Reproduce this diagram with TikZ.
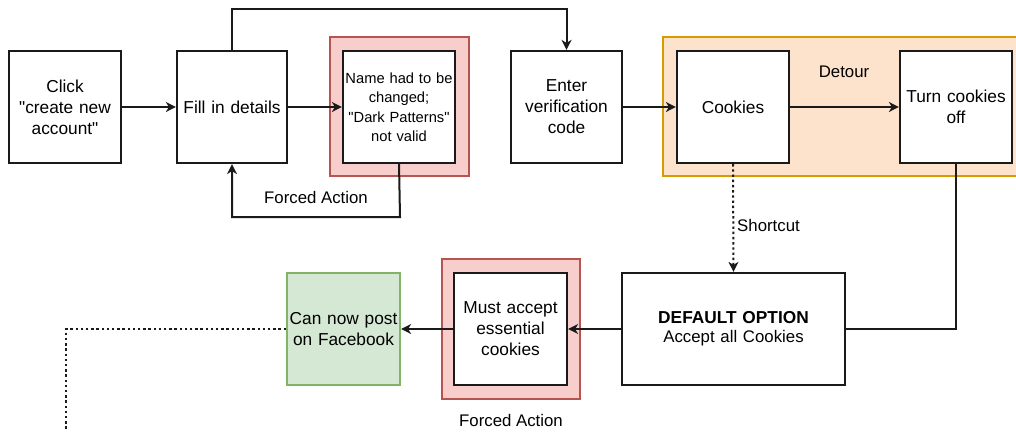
\documentclass[tikz,border=0pt]{standalone}
\usepackage{fontspec}
\setmainfont{Liberation Sans}[Ligatures=TeXOff]
\usetikzlibrary{arrows.meta}
\definecolor{redfill}{HTML}{F8CECC}
\definecolor{redline}{HTML}{B85450}
\definecolor{orfill}{HTML}{FDE3CC}
\definecolor{orline}{HTML}{D79B00}
\definecolor{grfill}{HTML}{D5E8D4}
\definecolor{grline}{HTML}{82B366}
\definecolor{ink}{HTML}{1A1A1A}
\begin{document}
\begin{tikzpicture}[x=1pt,y=-1pt,
  box/.style={draw=ink,line width=2.2pt,fill=white,minimum width=112pt,minimum height=112pt,inner sep=0pt,align=center,font=\fontsize{17.3}{21}\selectfont,text width=110pt},
  smallbox/.style={box,font=\fontsize{14.7}{19.5}\selectfont},
  conn/.style={draw=ink,line width=2pt},
  tip/.style={-{Stealth[length=10pt,width=10pt,inset=3pt]}},
  arr/.style={conn,tip},
  dotline/.style={conn,dash pattern=on 2.4pt off 2.8pt},
  lbl/.style={font=\fontsize{16.8}{19}\selectfont,inner sep=1pt}]
\useasboundingbox (0,0) rectangle (1016,431);
\clip (0,0) rectangle (1016,431);
\fill[white] (0,0) rectangle (1016,431);
% group backgrounds
\draw[draw=redline,fill=redfill,line width=1.6pt] (330,37) rectangle (469,176);
\draw[draw=orline,fill=orfill,line width=1.6pt] (663,37) rectangle (1030,176);
\draw[draw=redline,fill=redfill,line width=1.6pt] (442,259) rectangle (580,399);
\node[lbl,anchor=center] (detour) at (844,72) {Detour};
% nodes
\node[box] (click) at (65,107) {Click\\"create new\\account"};
\node[box,minimum width=110pt] (fill) at (232,107) {Fill in details};
\node[smallbox] (name) at (399,107) {Name had to be\\changed;\\"Dark Patterns"\\not valid};
\node[box,minimum width=111pt] (enter) at (566.5,107) {Enter\\verification\\code};
\node[box] (cookies) at (733,107) {Cookies};
\node[box] (turn) at (956,107) {Turn cookies\\off};
\node[box,minimum width=223pt,text width=215pt] (default) at (733.5,329) {\textbf{DEFAULT OPTION}\\[-2pt]{\fontsize{16.8}{19}\selectfont Accept all Cookies}};
\node[box,minimum width=113pt] (must) at (510.5,329) {Must accept\\essential\\cookies};
\node[box,draw=grline,fill=grfill,minimum width=113pt] (post) at (343.5,329) {Can now post\\on Facebook};
% labels
\node[lbl] (fa1) at (316,197) {Forced Action};
\node[lbl] (fa2) at (511,420) {Forced Action};
\node[lbl,anchor=west] (short) at (736,225) {Shortcut};
% connectors
\coordinate (topL) at (232,9);
\coordinate (topR) at (566.5,9);
\coordinate (loopR) at (400,217);
\coordinate (loopL) at (232,217);
\coordinate (turnc) at (956,329);
\coordinate (dotc) at (66,329);
\coordinate (dotend) at (66,440);
\draw[arr] (click.east) -- (fill.west);
\draw[arr] (fill.east) -- (name.west);
\draw[arr] (enter.east) -- (cookies.west);
\draw[arr] (cookies.east) -- (turn.west);
\draw[arr] (fill.north) -- (topL) -- (topR) -- (enter.north);
\draw[arr] (name.south) -- (loopR) -- (loopL) -- (fill.south);
\draw[dotline,tip] (cookies.south) -- (default.north);
\draw[conn] (turn.south) -- (turnc) -- (default.east);
\draw[arr] (default.west) -- (must.east);
\draw[arr] (must.west) -- (post.east);
\draw[dotline] (post.west) -- (dotc) -- (dotend);
\end{tikzpicture}
\end{document}
